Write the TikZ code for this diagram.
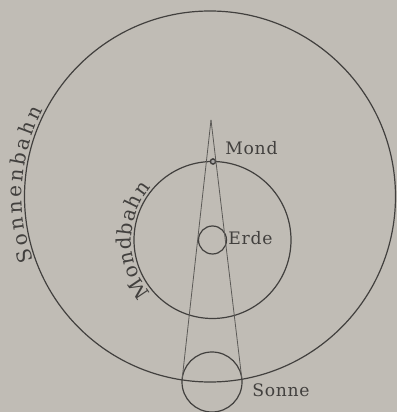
\documentclass[tikz,border=0pt]{standalone}
\usepackage{fontspec}
\usepackage{tikz}
\usetikzlibrary{calc,decorations.text}
\newfontfamily\labelfont{DejaVu Serif}
\definecolor{bpaper}{RGB}{192,188,181}
\definecolor{bink}{RGB}{66,64,62}
\definecolor{bgray}{RGB}{92,90,87}
\tikzset{
  orbit/.style  ={draw=bink, line width=0.6pt},
  body/.style   ={circle, draw=bink, line width=0.6pt, inner sep=0pt, outer sep=0pt},
  ray/.style    ={draw=bgray, line width=0.4pt},
  lbl/.style    ={font=\labelfont\fontsize{8.6}{10}\selectfont\addfontfeature{LetterSpace=4},
                  text=bink, inner sep=0pt, anchor=base west},
  arclbl/.style ={decorate, decoration={text along path, text align=fit to path,
                  text={|\labelfont\fontsize{10}{12}\selectfont\color{bink}|#1}}}
}

\begin{document}
\begin{tikzpicture}[x=0.5pt, y=0.5pt]
\fill[bpaper] (0,0) rectangle (397,412);
\useasboundingbox (0,0) rectangle (397,412);

% Bahnen
\coordinate (bahnmitte) at (210,215.5);
\node[body, minimum size=14pt] (erde) at (212.5,172) {};
\draw[orbit] (bahnmitte) circle[radius=185.5];
\draw[orbit] (erde.center) circle[radius=78.5];

% Koerper
\node[body, minimum size=30pt] (sonne) at (212,30) {};
\node[body, minimum size=2.6pt, fill=bgray!55, line width=0.7pt] (mond) at (213,250.5) {};
\coordinate (spitze) at (211,292);

\draw[ray] (spitze) -- (tangent cs:node=sonne,point={(spitze)},solution=1);
\draw[ray] (spitze) -- (tangent cs:node=sonne,point={(spitze)},solution=2);

% Beschriftung
\node[lbl] (mondlbl) at (225,257) {Mond};
\node[lbl] (erdelbl) at (228,167) {Erde};
\node[lbl] (sonnelbl) at (252,15) {Sonne};
\path[arclbl=Sonnenbahn] (bahnmitte) ++(200:188) arc[start angle=200, end angle=152.6, radius=188];
\path[arclbl=Mondbahn] (erde.center) ++(221:81) arc[start angle=221, end angle=139.5, radius=81];
\end{tikzpicture}
\end{document}
